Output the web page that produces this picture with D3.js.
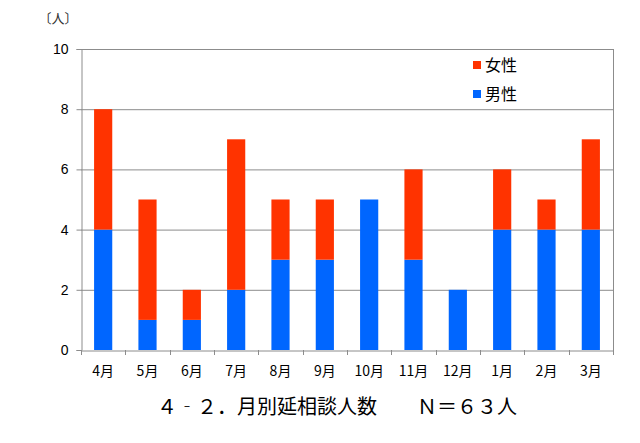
<!DOCTYPE html>
<html>
<head>
<meta charset="utf-8">
<script src="https://cdn.jsdelivr.net/npm/d3@7"></script>
<style>
  body { margin: 0; background: #fff; }
  svg { display: block; font-family: "Noto Sans CJK JP", "DejaVu Sans", sans-serif; }
</style>
</head>
<body>
<svg id="chart" width="640" height="443"></svg>
<script>
// ── データ ──────────────────────────────
const months = ["4月", "5月", "6月", "7月", "8月", "9月", "10月", "11月", "12月", "1月", "2月", "3月"];
const male   = [4, 1, 1, 2, 3, 3, 5, 3, 2, 4, 4, 4];
const female = [4, 4, 1, 5, 2, 2, 0, 3, 0, 2, 1, 3];
const yTicks = [0, 2, 4, 6, 8, 10];

const RED = "#ff3300";
const BLUE = "#0066ff";

const svg = d3.select("#chart");
const m = { left: 81, right: 613, top: 49, bottom: 350 };

const x = d3.scaleBand().domain(months).range([m.left, m.right]).paddingInner(0.59).paddingOuter(0.295);
const y = d3.scaleLinear().domain([0, 10]).range([m.bottom, m.top]);

// グリッド線
svg.append("g")
    .selectAll("line")
    .data(yTicks.filter(t => t > 0))
    .join("line")
    .attr("x1", m.left).attr("x2", m.right)
    .attr("y1", d => y(d) + 0.5).attr("y2", d => y(d) + 0.5)
    .attr("stroke", "#8c8c8c");

// 積み上げ
const rows = months.map((mo, i) => ({ month: mo, male: male[i], female: female[i] }));
const stack = d3.stack().keys(["male", "female"])(rows);
const colors = { male: BLUE, female: RED };

svg.append("g")
    .selectAll("g")
    .data(stack)
    .join("g")
    .attr("fill", d => colors[d.key])
    .selectAll("rect")
    .data(d => d)
    .join("rect")
    .attr("x", d => x(d.data.month))
    .attr("width", x.bandwidth())
    .attr("y", d => y(d[1]))
    .attr("height", d => y(d[0]) - y(d[1]));

// Y 軸
const yAxis = svg.append("g")
    .attr("transform", `translate(${m.left + 0.5},0)`)
    .call(d3.axisLeft(y).tickValues(yTicks).tickSize(5).tickPadding(8).tickFormat(d3.format("d")));
yAxis.select(".domain").attr("stroke", "#8c8c8c");
yAxis.selectAll(".tick line").attr("stroke", "#8c8c8c");
yAxis.selectAll("text").attr("font-size", 14).attr("fill", "#000")
    .attr("font-family", "Liberation Sans, Arial, sans-serif");

// X 軸
const xAxis = svg.append("g")
    .attr("transform", `translate(0,${m.bottom + 0.5})`)
    .call(d3.axisBottom(x).tickSize(0).tickPadding(16));
xAxis.select(".domain").attr("stroke", "#8c8c8c");
xAxis.selectAll("text").attr("font-size", 14).attr("fill", "#000")
    .attr("font-family", "Noto Sans CJK JP, sans-serif");
// 区切り目盛
svg.append("g")
    .selectAll("line")
    .data(d3.range(months.length + 1))
    .join("line")
    .attr("x1", i => Math.round(m.left + i * (m.right - m.left) / months.length) + 0.5)
    .attr("x2", i => Math.round(m.left + i * (m.right - m.left) / months.length) + 0.5)
    .attr("y1", m.bottom).attr("y2", m.bottom + 5)
    .attr("stroke", "#8c8c8c");
svg.append("line")
    .attr("x1", m.right + 0.5).attr("x2", m.right + 0.5)
    .attr("y1", m.top).attr("y2", m.bottom)
    .attr("stroke", "#8c8c8c");

// 単位
svg.append("text")
    .attr("x", 58).attr("y", 23)
    .attr("text-anchor", "middle")
    .attr("font-size", 13)
    .attr("fill", "#333")
    .text("〔人〕");

// 凡例
const legend = [{ label: "女性", color: RED }, { label: "男性", color: BLUE }];
const lg = svg.append("g").selectAll("g").data(legend).join("g")
    .attr("transform", (d, i) => `translate(473,${61 + i * 29})`);
lg.append("rect").attr("width", 8).attr("height", 8).attr("fill", d => d.color);
lg.append("text").attr("x", 12).attr("y", 10).attr("font-size", 16).attr("fill", "#000").text(d => d.label);

// タイトル
svg.append("text")
    .attr("x", 337).attr("y", 414)
    .attr("text-anchor", "middle")
    .attr("font-size", 20)
    .attr("fill", "#000")
    .text("４‐２．月別延相談人数　　Ｎ＝６３人");
</script>
</body>
</html>
